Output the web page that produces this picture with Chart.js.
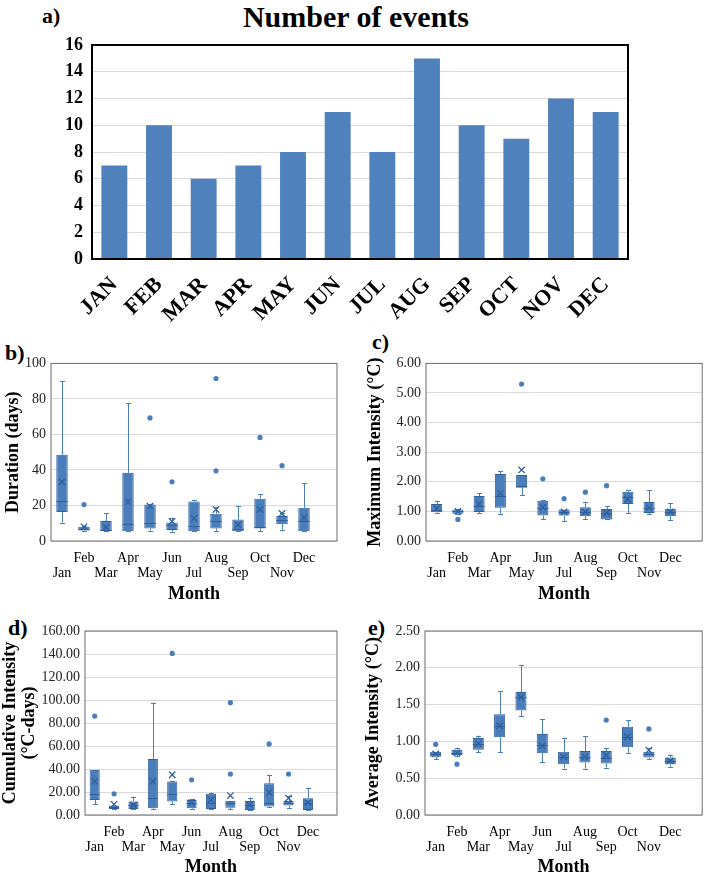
<!DOCTYPE html>
<html>
<head>
<meta charset="utf-8">
<script src="https://cdn.jsdelivr.net/npm/chart.js@4.4.0/dist/chart.umd.min.js"></script>
<style>
  body { margin: 0; background: #fff; width: 708px; height: 874px; position: relative; overflow: hidden; font-family: "Liberation Serif", serif; }
  canvas { position: absolute; }
  .tag { position: absolute; font-weight: bold; font-size: 22px; line-height: 1; }
  .title { position: absolute; left: 0; width: 708px; text-align: center; font-weight: bold; font-size: 30px; top: 0; }
</style>
</head>
<body>
<div class="title" style="left:2px">Number of events</div>
<div class="tag" style="left:42px;top:5px">a)</div>
<div class="tag" style="left:5px;top:342px">b)</div>
<div class="tag" style="left:372px;top:331px">c)</div>
<div class="tag" style="left:8px;top:617px">d)</div>
<div class="tag" style="left:368px;top:617px">e)</div>

<canvas id="chartA" width="708" height="345" style="left:0;top:0"></canvas>
<canvas id="chartB" width="350" height="255" style="left:0;top:350px"></canvas>
<canvas id="chartC" width="353" height="255" style="left:355px;top:350px"></canvas>
<canvas id="chartD" width="350" height="262" style="left:0;top:615px"></canvas>
<canvas id="chartE" width="353" height="262" style="left:355px;top:615px"></canvas>

<script>
// data
const monthCaps = ['JAN','FEB','MAR','APR','MAY','JUN','JUL','AUG','SEP','OCT','NOV','DEC'];
const months = ['Jan','Feb','Mar','Apr','May','Jun','Jul','Aug','Sep','Oct','Nov','Dec'];
const eventCounts = [7, 10, 6, 7, 8, 11, 8, 15, 10, 9, 12, 11];

// box stats: [min whisker, q1, median, q3, max whisker]
const durationBox = [
  [10.4, 16.3, 22.3, 48.5, 90], [5.7, 5.9, 6.5, 8, 8.5], [5.5, 5.5, 6, 11.3, 15.5],
  [5.5, 5.5, 9.5, 38.4, 77.6], [5.9, 7.1, 10.4, 20.5, 21], [5.3, 6.2, 9.1, 10.4, 12.8],
  [5.5, 5.5, 8.6, 22.3, 23.2], [5.7, 7.1, 11, 15.4, 19], [5.5, 5.5, 7, 12.1, 19.6],
  [5.5, 7.1, 8, 23.8, 26.5], [6.4, 9.5, 11.9, 14.1, 15.9], [5.5, 5.5, 11, 18.7, 32.7]
];
const durationMean = [33.3, 8, 7.7, 22, 19.6, 11, 12.8, 17.7, 9.1, 17.7, 15.5, 13.2];
const durationOutliers = [[], [20.5], [], [], [69.3], [33.3], [], [91.5, 39.5], [], [58.3], [42.4], []];

const maxIntBox = [
  [0.95, 0.97, 1.05, 1.25, 1.36], [0.92, 0.92, 1.0, 1.06, 1.09], [0.95, 0.98, 1.17, 1.52, 1.61],
  [0.92, 1.12, 1.52, 2.26, 2.37], [1.55, 1.80, 1.85, 2.23, 2.23], [0.73, 0.86, 1.12, 1.36, 1.39],
  [0.67, 0.86, 0.97, 1.06, 1.06], [0.73, 0.84, 0.98, 1.14, 1.33], [0.73, 0.73, 0.95, 1.08, 1.17],
  [0.93, 1.25, 1.48, 1.66, 1.72], [0.90, 0.95, 1.12, 1.32, 1.72], [0.71, 0.84, 0.98, 1.09, 1.28]
];
const maxIntMean = [1.1, 1.0, 1.25, 1.61, 2.40, 1.14, 0.98, 0.98, 0.95, 1.41, 1.12, 0.98];
const maxIntOutliers = [[], [0.73], [], [], [5.3], [2.10], [1.43], [1.65], [1.87], [], [], []];

const cumIntBox = [
  [9.6, 13.1, 18.4, 39.4, 39.4], [5.2, 5.2, 6.7, 8.2, 8.2], [5.2, 5.2, 8.7, 11.7, 16],
  [5.2, 5.8, 14.6, 48.7, 97.7], [9.6, 11.7, 18.4, 29.2, 29.2], [5.2, 5.8, 10.2, 13.1, 14],
  [5.2, 5.2, 10.8, 18.4, 19.5], [5.2, 6.4, 10.2, 12.5, 12.5], [4.4, 4.4, 8.7, 12.2, 15.2],
  [6.7, 7.3, 10.2, 27.7, 35], [6.4, 8.2, 10.8, 12.2, 16.9], [4.4, 4.4, 10.2, 14.6, 23.3]
];
const cumIntMean = [29.2, 9.3, 8.7, 29.2, 35, 10.8, 13.1, 16.9, 8.7, 19.5, 14.6, 10.8];
const cumIntOutliers = [[86], [18.4], [], [], [140.5], [30.6], [], [97.7, 35.6], [], [61.8], [35.6], []];

const avgIntBox = [
  [0.755, 0.79, 0.83, 0.86, 0.86], [0.80, 0.815, 0.845, 0.885, 0.915], [0.85, 0.885, 0.97, 1.045, 1.08],
  [0.85, 1.055, 1.21, 1.37, 1.68], [1.345, 1.42, 1.60, 1.67, 2.04], [0.715, 0.84, 0.95, 1.10, 1.30],
  [0.63, 0.69, 0.79, 0.86, 1.04], [0.63, 0.715, 0.79, 0.87, 1.07], [0.645, 0.70, 0.78, 0.87, 0.905],
  [0.845, 0.92, 1.06, 1.20, 1.29], [0.755, 0.78, 0.835, 0.86, 0.905], [0.655, 0.69, 0.735, 0.78, 0.82]
];
const avgIntMean = [0.83, 0.845, 0.97, 1.21, 1.60, 0.94, 0.79, 0.79, 0.81, 1.06, 0.88, 0.735];
const avgIntOutliers = [[0.96], [0.69], [], [], [], [], [], [], [1.29], [], [1.17], []];

const serif = '"Liberation Serif", "Times New Roman", serif';
Chart.defaults.font.family = serif;
Chart.defaults.color = '#000';
Chart.defaults.animation = false;

const boxFill = '#4a7ebb';
const boxEdge = '#2f5f9c';

// frame round the plot area
function framePlugin(color, width) {
  return {
    id: 'frame',
    afterDatasetsDraw(chart) {
      const { ctx, chartArea: a } = chart;
      ctx.save();
      ctx.strokeStyle = color;
      ctx.lineWidth = width;
      ctx.strokeRect(a.left, a.top, a.right - a.left, a.bottom - a.top);
      ctx.restore();
    }
  };
}

// whiskers and median lines, placed with the chart's scales
function boxExtras(stats) {
  return {
    id: 'boxExtras',
    beforeDatasetsDraw(chart) {
      const { ctx, scales: { x, y } } = chart;
      ctx.save();
      ctx.strokeStyle = boxFill;
      ctx.lineWidth = 1;
      stats.forEach((s, i) => {
        const px = Math.round(x.getPixelForValue(i)) + 0.5;
        ctx.beginPath();
        ctx.moveTo(px, y.getPixelForValue(s[0]));
        ctx.lineTo(px, y.getPixelForValue(s[1]));
        ctx.moveTo(px, y.getPixelForValue(s[3]));
        ctx.lineTo(px, y.getPixelForValue(s[4]));
        [s[0], s[4]].forEach(v => {
          const py = Math.round(y.getPixelForValue(v)) + 0.5;
          ctx.moveTo(px - 2.5, py);
          ctx.lineTo(px + 2.5, py);
        });
        ctx.stroke();
      });
      ctx.restore();
    },
    afterDatasetDraw(chart, args) {
      if (args.index !== 0) return;
      const { ctx, scales: { y } } = chart;
      const bars = chart.getDatasetMeta(0).data;
      ctx.save();
      ctx.strokeStyle = boxEdge;
      ctx.lineWidth = 1;
      stats.forEach((s, i) => {
        const b = bars[i];
        const py = Math.round(y.getPixelForValue(s[2])) + 0.5;
        ctx.beginPath();
        ctx.moveTo(b.x - b.width / 2, py);
        ctx.lineTo(b.x + b.width / 2, py);
        ctx.stroke();
      });
      ctx.restore();
    }
  };
}

// a) number of events
new Chart(document.getElementById('chartA'), {
  type: 'bar',
  data: {
    labels: monthCaps,
    datasets: [{ data: eventCounts, backgroundColor: '#4f81bd', barPercentage: 0.58, categoryPercentage: 1 }]
  },
  options: {
    responsive: false,
    layout: { padding: { left: 0, right: 80, top: 45, bottom: 0 } },
    plugins: { legend: { display: false }, tooltip: { enabled: false } },
    scales: {
      x: {
        grid: { display: false },
        border: { display: false },
        ticks: { minRotation: 45, maxRotation: 45, padding: 5, font: { size: 22, weight: 'bold' }, color: '#000' },
        afterFit: s => { s.height = 86; }
      },
      y: {
        min: 0, max: 16,
        ticks: { stepSize: 2, padding: 9, font: { size: 18, weight: 'bold' }, color: '#000' },
        grid: { color: '#d9d9d9', drawTicks: false },
        border: { display: false },
        afterFit: s => { s.width = 92; }
      }
    }
  },
  plugins: [framePlugin('#000', 2)]
});

function boxChart(id, g, stats, means, outliers, yMax, step, dec, yTitle) {
  const outPts = [];
  outliers.forEach((list, i) => list.forEach(v => outPts.push({ x: months[i], y: v })));
  new Chart(document.getElementById(id), {
    data: {
      labels: months.concat(['']),
      datasets: [
        {
          type: 'bar', order: 3,
          data: stats.map(s => [s[1], s[3]]),
          backgroundColor: boxFill, borderColor: boxEdge, borderWidth: 1, borderSkipped: false,
          barPercentage: 0.52, categoryPercentage: 1
        },
        {
          type: 'line', order: 1, data: means, showLine: false,
          pointStyle: 'crossRot', pointRadius: 4.5, borderColor: boxEdge, borderWidth: 1.3
        },
        {
          type: 'line', order: 1, data: outPts, showLine: false,
          pointStyle: 'circle', pointRadius: 2.6, backgroundColor: boxFill, borderColor: boxFill, borderWidth: 0
        }
      ]
    },
    options: {
      responsive: false,
      layout: { padding: { left: 0, right: g.right, top: g.top, bottom: 0 } },
      plugins: { legend: { display: false }, tooltip: { enabled: false } },
      scales: {
        x: {
          grid: { display: false },
          border: { display: false },
          ticks: {
            autoSkip: false, maxRotation: 0, padding: 2,
            font: { size: 14, lineHeight: 1.05 }, color: '#000',
            callback: (v, i) => i >= 12 ? '' : (i % 2 === 0 ? ['', months[i]] : [months[i], ''])
          },
          title: { display: true, text: 'Month', font: { size: 18, weight: 'bold', lineHeight: 1.1 }, padding: { top: 0, bottom: g.mBottom } },
          afterFit: s => { s.height = g.xh; }
        },
        y: {
          min: 0, max: yMax,
          ticks: { stepSize: step, padding: 5, font: { size: 14 }, color: '#222', callback: v => v.toFixed(dec) },
          grid: { color: '#d9d9d9', drawTicks: false },
          border: { display: false },
          title: { display: true, text: yTitle, font: { size: 18, weight: 'bold', lineHeight: 1.1 }, padding: { top: g.tPad, bottom: 0 } },
          afterFit: s => { s.width = g.yw; }
        }
      }
    },
    plugins: [boxExtras(stats), framePlugin('#6b6b6b', 1)]
  });
}

boxChart('chartB', { right: 13, top: 7, xh: 64, yw: 51, tPad: 3, mBottom: 1 },
  durationBox, durationMean, durationOutliers, 100, 10, 0, 'Duration (days)');
boxChart('chartC', { right: 2, top: 7, xh: 64, yw: 71, tPad: 10, mBottom: 1 },
  maxIntBox, maxIntMean, maxIntOutliers, 6, 1, 2, 'Maximum Intensity (°C)');
boxChart('chartD', { right: 13, top: 16, xh: 62, yw: 85, tPad: 0, mBottom: 0 },
  cumIntBox, cumIntMean, cumIntOutliers, 160, 20, 2, ['Cumulative Intensity', '(°C-days)']);
boxChart('chartE', { right: 2, top: 16, xh: 62, yw: 70, tPad: 8, mBottom: 0 },
  avgIntBox, avgIntMean, avgIntOutliers, 2.5, 0.5, 2, 'Average Intensity (°C)');
</script>
</body>
</html>
